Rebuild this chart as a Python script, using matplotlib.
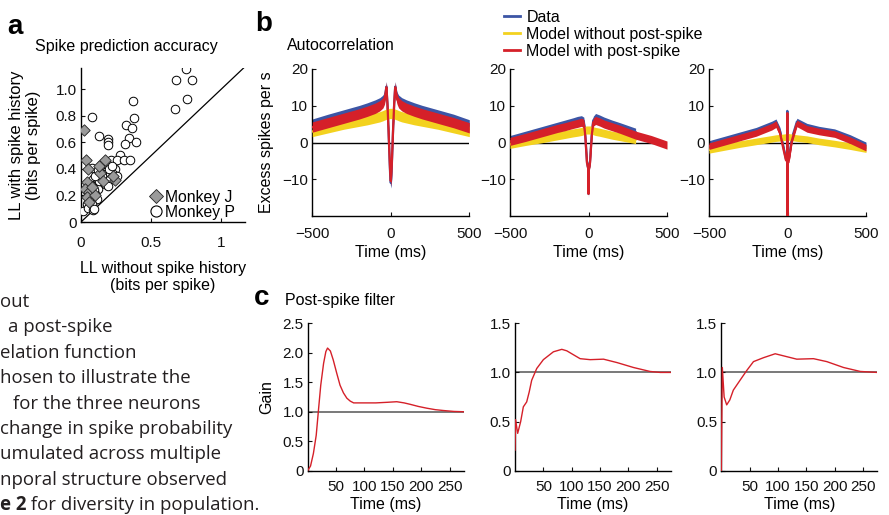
import numpy as np
import matplotlib
matplotlib.use('Agg')
import matplotlib.pyplot as plt
from matplotlib.lines import Line2D

plt.rcParams['font.family'] = ['Liberation Sans', 'DejaVu Sans']

# ---- panel a: spike prediction accuracy (bits per spike)
mp_x = [0.75, 0.68, 0.79, 0.755, 0.67, 0.37, 0.375, 0.32, 0.365, 0.345, 0.39, 0.315,
        0.08, 0.13, 0.195, 0.195, 0.195, 0.275, 0.215, 0.26, 0.305, 0.35, 0.245, 0.08,
        0.112, 0.136, 0.16, 0.183, 0.207, 0.088, 0.112, 0.148, 0.183, 0.207, 0.1, 0.124,
        0.076, 0.1, 0.088, 0.112, 0.064, 0.04, 0.017, 0.052, 0.076, 0.171, 0.195, 0.231,
        0.255, 0.148, 0.124, 0.085, 0.095, 0.06, 0.07, 0.09, 0.13, 0.16, 0.14, 0.19,
        0.2, 0.22, 0.05, 0.1, 0.12]
mp_y = [1.15, 1.07, 1.07, 0.93, 0.85, 0.91, 0.78, 0.73, 0.71, 0.63, 0.60, 0.59,
        0.79, 0.645, 0.625, 0.605, 0.58, 0.505, 0.47, 0.47, 0.47, 0.47, 0.40, 0.405,
        0.347, 0.385, 0.36, 0.385, 0.36, 0.322, 0.296, 0.309, 0.309, 0.322, 0.259, 0.246,
        0.221, 0.208, 0.157, 0.17, 0.132, 0.132, 0.081, 0.107, 0.132, 0.283, 0.271, 0.36,
        0.347, 0.347, 0.335, 0.09, 0.10, 0.18, 0.28, 0.24, 0.31, 0.42, 0.43, 0.43,
        0.40, 0.42, 0.20, 0.35, 0.39]
mj_x = [0.02, 0.035, 0.05, 0.17, 0.045, 0.245, 0.135, 0.225, 0.16, 0.03, 0.055, 0.04,
        0.1, 0.06, 0.08, 0.125]
mj_y = [0.69, 0.47, 0.40, 0.465, 0.305, 0.315, 0.37, 0.35, 0.31, 0.25, 0.225, 0.19,
        0.2, 0.15, 0.26, 0.42]

# ---- panel b: autocorrelation (excess spikes per s) for three neurons
lag_b1 = [-500, -400, -300, -200, -150, -100, -70, -50, -40, -33, -28, -22, -15, -8, -3, 0,
          3, 8, 15, 22, 28, 33, 40, 50, 70, 100, 150, 200, 300, 400, 500]
data_b1 = [5.0, 6.3, 7.5, 8.7, 9.4, 10.2, 10.8, 11.5, 12.3, 13.8, 15.2, 11.0, 4.0, -4.5, -10.0, -11.0,
           -10.0, -4.5, 4.0, 11.0, 15.2, 13.8, 12.3, 11.5, 10.8, 10.2, 9.4, 8.7, 7.5, 6.3, 4.8]
nops_b1 = [3.0, 4.0, 5.0, 5.8, 6.2, 6.7, 7.0, 7.3, 7.5, 7.6, 7.7, 7.8, 7.8, 7.9, 7.9, 7.9,
           7.9, 7.9, 7.8, 7.8, 7.7, 7.6, 7.5, 7.3, 7.0, 6.7, 6.2, 5.8, 5.0, 4.0, 3.0]
ps_b1 = [4.2, 5.4, 6.6, 7.8, 8.5, 9.3, 10.0, 10.8, 11.8, 13.5, 15.0, 11.0, 4.0, -4.0, -9.0, -10.5,
         -9.0, -4.0, 4.0, 11.0, 15.0, 13.5, 11.8, 10.8, 10.0, 9.3, 8.5, 7.8, 6.6, 5.4, 4.0]

lag_b2 = [-500, -400, -300, -200, -150, -100, -70, -45, -30, -22, -15, -10, -5, -2, 0,
          2, 5, 10, 15, 22, 30, 45, 70, 100, 150, 200, 300, 400, 500]
data_b2 = [0.8, 2.0, 3.2, 4.4, 5.0, 5.6, 6.0, 6.2, 5.8, 3.0, -1.5, -5.0, -6.5, -7.0, -14.0,
           -7.0, -6.5, -5.0, -1.5, 3.0, 6.0, 6.8, 6.4, 5.8, 5.0, 4.3, 2.8, np.nan, np.nan]
nops_b2 = [-0.5, 0.3, 1.0, 1.8, 2.2, 2.6, 2.8, 3.0, 3.2, 3.3, 3.4, 3.4, 3.4, 3.4, 3.4,
           3.4, 3.4, 3.4, 3.4, 3.3, 3.2, 3.0, 2.8, 2.5, 2.0, 1.6, 0.8, np.nan, np.nan]
ps_b2 = [0.3, 1.4, 2.6, 3.8, 4.3, 4.9, 5.2, 5.5, 5.2, 2.5, -2.0, -5.5, -6.5, -7.0, -14.0,
         -7.0, -6.5, -5.5, -2.0, 2.5, 5.5, 6.0, 5.6, 5.0, 4.3, 3.6, 2.0, 0.8, -0.7]

lag_b3 = [-500, -400, -300, -200, -100, -73, -48, -27, -10, -2, -1, 0, 1, 2, 10, 28, 60,
          124, 200, 300, 400, 500]
data_b3 = [-0.4, 0.8, 2.0, 3.2, 4.9, 5.5, 3.2, -1.0, -4.5, -4.8, 8.6, -20.0, -4.8, -4.5, -4.0,
           1.2, 5.7, 4.3, 3.5, 2.8, 1.2, -0.8]
nops_b3 = [-2.0, -1.2, -0.4, 0.3, 1.0, 1.2, 1.3, 1.4, 1.5, 1.6, 1.6, 1.6, 1.6, 1.6, 1.5, 1.4, 1.2,
           0.9, 0.3, -0.3, -1.0, -1.8]
ps_b3 = [-1.0, 0.2, 1.4, 2.6, 4.3, 5.0, 2.6, -1.6, -4.8, -5.0, 8.0, -20.0, -5.0, -4.8, -4.5,
         0.6, 5.2, 3.7, 3.0, 2.3, 0.6, -1.4]

# ---- panel c: post-spike filter (gain)
t_c1 = [0, 5, 10, 15, 19, 23, 28, 32, 35, 40, 45, 51, 57, 63, 69, 75, 81, 100, 120, 140,
        157, 170, 181, 195, 210, 225, 240, 258, 275]
gain_c1 = [0.0, 0.08, 0.29, 0.60, 1.03, 1.45, 1.82, 2.02, 2.08, 2.03, 1.88, 1.66, 1.45, 1.32,
           1.23, 1.18, 1.15, 1.15, 1.15, 1.16, 1.17, 1.15, 1.125, 1.09, 1.06, 1.035, 1.02, 1.005, 1.0]
t_c2 = [0, 1, 4.7, 10, 14.7, 20.6, 25, 29.4, 38.3, 50, 67.7, 82.5, 91.3, 103, 114.8, 132.5,
        156, 180, 209, 238, 256, 274]
gain_c2 = [0.21, 0.52, 0.38, 0.50, 0.65, 0.70, 0.80, 0.92, 1.04, 1.13, 1.21, 1.235, 1.22, 1.18,
           1.14, 1.13, 1.135, 1.10, 1.05, 1.01, 1.0, 1.0]
t_c3 = [0, 1.8, 5, 9.5, 15, 21.2, 33, 44.9, 56.7, 74.4, 95, 115.7, 133, 162.5, 186, 215.6,
        245, 275]
gain_c3 = [0.0, 1.05, 0.75, 0.67, 0.72, 0.82, 0.92, 1.02, 1.11, 1.15, 1.19, 1.16, 1.135, 1.14,
           1.11, 1.05, 1.01, 1.0]

caption_lines = ["out", "a post-spike", "elation function", "hosen to illustrate the",
                 "for the three neurons", "change in spike probability",
                 "umulated across multiple", "nporal structure observed"]
caption_last = ("e 2", " for diversity in population.")

BLUE, YELLOW, RED = '#3c55a5', '#f3d21f', '#d52029'
LAB = 11.5   # axis labels / titles
TICK = 11
W, H = 889, 515
fig = plt.figure(figsize=(W / 100, H / 100), dpi=100)


def add_ax(l, t, r, b):
    return fig.add_axes([l / W, 1 - b / H, (r - l) / W, (b - t) / H])


def txt(x, y, s, **kw):
    return fig.text(x / W, 1 - y / H, s, **kw)


def style(ax, xpad):
    for s in ['top', 'right']:
        ax.spines[s].set_visible(False)
    for s in ['left', 'bottom']:
        ax.spines[s].set_linewidth(1.0)
    ax.tick_params(direction='in', length=3, width=0.8, labelsize=TICK, colors='#111111')
    ax.tick_params(axis='x', pad=xpad)
    ax.tick_params(axis='y', pad=3)


# panel a
ax = add_ax(81, 68, 245, 222)
ax.plot([0, 1.17], [0, 1.17], color='k', lw=0.9)
ax.scatter(mp_x, mp_y, s=38, facecolor='white', edgecolor='k', linewidth=0.7, zorder=3)
ax.scatter(mj_x, mj_y, s=34, marker='D', facecolor='#9a9a9a', edgecolor='#222222',
           linewidth=0.6, zorder=4)
ax.set_xlim(0, 1.17)
ax.set_ylim(0, 1.16)
ax.set_xticks([0, 0.5, 1])
ax.set_xticklabels(['0', '0.5', '1'])
ax.set_yticks([0, 0.2, 0.4, 0.6, 0.8, 1.0])
ax.set_yticklabels(['0', '0.2', '0.4', '0.6', '0.8', '1.0'])
style(ax, 10)
leg = [Line2D([], [], ls='none', marker='D', ms=7, mfc='#9a9a9a', mec='#222222', mew=0.6),
       Line2D([], [], ls='none', marker='o', ms=8, mfc='white', mec='k', mew=0.8)]
ax.legend(leg, ['Monkey J', 'Monkey P'], loc='lower right', frameon=False, fontsize=11.3,
          handlelength=0.6, handletextpad=0.3, labelspacing=0.0, borderpad=0,
          borderaxespad=0.15, bbox_to_anchor=(0.955, 0.0))
txt(126, 47, 'Spike prediction accuracy', fontsize=LAB, ha='center', va='center')
txt(25, 145, 'LL with spike history\n(bits per spike)', fontsize=LAB + 0.5, rotation=90,
    ha='center', va='center', linespacing=1.15)
txt(163, 277, 'LL without spike history\n(bits per spike)', fontsize=LAB,
    ha='center', va='center', linespacing=1.15)
txt(7, 27, 'a', fontsize=20, fontweight='bold', va='center')

# panel b
b_sets = [(lag_b1, data_b1, nops_b1, ps_b1, 1.4, 312.3),
          (lag_b2, data_b2, nops_b2, ps_b2, 1.1, 510),
          (lag_b3, data_b3, nops_b3, ps_b3, 0.9, 709)]
for lag, d, n, p, hw, left in b_sets:
    ax = add_ax(left, 69, left + 157, 216)
    ax.axhline(0, color='k', lw=1.0, zorder=1)
    lag = np.array(lag)
    for vals, col, z in [(d, BLUE, 2), (n, YELLOW, 3), (p, RED, 4)]:
        v = np.array(vals, dtype=float)
        ax.fill_between(lag, v - hw, v + hw, color=col, lw=0, zorder=z)
        ax.plot(lag, v, color=col, lw=1.6, zorder=z)
    ax.set_xlim(-500, 500)
    ax.set_ylim(-20, 20)
    ax.set_xticks([-500, 0, 500])
    ax.set_yticks([-10, 0, 10, 20])
    style(ax, 8)
    ax.set_xlabel('Time (ms)', fontsize=LAB, labelpad=3)
    if left < 400:
        ax.set_ylabel('Excess spikes per s', fontsize=LAB, labelpad=6)
txt(287, 45, 'Autocorrelation', fontsize=LAB, va='center')
txt(255, 24, 'b', fontsize=20, fontweight='bold', va='center')
handles = [Line2D([], [], color=c, lw=2) for c in (BLUE, YELLOW, RED)]
fig.legend(handles, ['Data', 'Model without post-spike', 'Model with post-spike'],
           loc='upper left', bbox_to_anchor=(504 / W, 1 - 10 / H), frameon=False,
           fontsize=LAB, handlelength=1.0, handletextpad=0.4, labelspacing=0.12,
           borderpad=0, borderaxespad=0)

# panel c
c_sets = [(t_c1, gain_c1, 2.5, 307.7), (t_c2, gain_c2, 1.5, 515), (t_c3, gain_c3, 1.5, 721.3)]
for t, g, top, left in c_sets:
    ax = add_ax(left, 323.3, left + 156, 470.7)
    ax.axhline(1.0, color='#555555', lw=1.1, zorder=1)
    ax.plot(t, g, color=RED, lw=1.0, zorder=3)
    ax.set_xlim(0, 275)
    ax.set_ylim(0, top)
    ax.set_xticks([50, 100, 150, 200, 250])
    yt = np.arange(0, top + 0.01, 0.5)
    ax.set_yticks(yt)
    ax.set_yticklabels(['0'] + ['%.1f' % v for v in yt[1:]])
    style(ax, 7)
    ax.set_xlabel('Time (ms)', fontsize=LAB, labelpad=2)
    if left < 400:
        ax.set_ylabel('Gain', fontsize=LAB, labelpad=6)
txt(285, 301, 'Post-spike filter', fontsize=LAB, va='center')
txt(254, 298, 'c', fontsize=20, fontweight='bold', va='center')

# clipped caption text from the page
CAP = dict(fontsize=13.4, va='center', color='#231f20', family=['Open Sans', 'DejaVu Sans'])
for i, line in enumerate(caption_lines):
    x0 = 8 if line.startswith('a ') else (13 if line.startswith('for') else 0)
    txt(x0, 302 + 25.4 * i, line, **CAP)
yl = 302 + 25.4 * len(caption_lines)
t1 = txt(0, yl, caption_last[0], fontweight='bold', **CAP)
fig.canvas.draw()
bb = t1.get_window_extent()
fig.text(bb.x1 / fig.dpi / fig.get_figwidth(), 1 - yl / H, caption_last[1], **CAP)

fig.savefig('out.png', dpi=100)
